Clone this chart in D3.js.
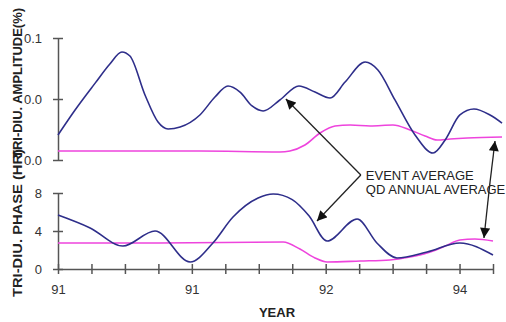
<!DOCTYPE html>
<html>
<head>
<meta charset="utf-8">
<script src="https://cdn.jsdelivr.net/npm/d3@7"></script>
<style>
  body { margin: 0; background: #fff; }
  text { font-family: "Liberation Sans", Arial, sans-serif; }
</style>
</head>
<body>
<div id="chart"></div>
<script>
// chart.js

// x positions are tick indexes along the year axis (0..13)
const xTicks = d3.range(14);
const xTickLabels = { 0: "91", 4: "91", 8: "92", 12: "94" };

const ampTicks = [0, 0.05, 0.1];
const ampTickLabels = ["0.0", "0.0", "0.1"];
const phaseTicks = [0, 4, 8];

// amplitude panel (%)
const ampEventX = [0, 0.51, 1.11, 1.55, 1.91, 2.15, 2.6, 2.99, 3.29, 3.65, 4.24, 4.69, 5.08, 5.44, 5.8, 6.13, 6.63, 7.2, 7.68, 8.13, 8.58, 9.18, 9.56, 10.07, 10.67, 11.21, 11.57, 12.01, 12.43, 12.91, 13.27];
const ampEventY = [0.0205, 0.041, 0.063, 0.0787, 0.0885, 0.0852, 0.0533, 0.0311, 0.0254, 0.027, 0.0369, 0.0516, 0.0607, 0.0557, 0.0443, 0.0402, 0.0492, 0.0607, 0.0557, 0.0508, 0.0639, 0.0803, 0.0738, 0.0492, 0.0205, 0.0057, 0.0164, 0.0369, 0.0418, 0.0369, 0.0303];
const ampQdX = [0, 4.24, 6.63, 6.93, 7.38, 7.83, 8.28, 8.73, 9.33, 10.01, 10.52, 10.97, 11.33, 11.72, 12.23, 13.27];
const ampQdY = [0.0074, 0.0074, 0.0066, 0.0074, 0.0123, 0.0221, 0.0279, 0.0287, 0.0279, 0.0287, 0.0246, 0.0197, 0.0164, 0.0172, 0.018, 0.0189];

// phase panel (hr)
const phaseEventX = [0, 0.96, 1.94, 2.9, 3.95, 4.63, 5.23, 5.98, 6.43, 7.0, 7.5, 8.04, 8.94, 9.53, 10.13, 11.03, 12.01, 13];
const phaseEventY = [5.68, 4.32, 2.42, 4.0, 0.74, 2.74, 5.47, 7.47, 7.89, 7.3, 5.6, 2.95, 5.26, 2.74, 1.16, 1.79, 2.74, 1.47];
const phaseQdX = [0, 3, 6.73, 7.23, 7.68, 8.04, 9.03, 9.92, 10.52, 11.03, 11.57, 12.01, 12.46, 13];
const phaseQdY = [2.74, 2.74, 2.84, 2.1, 1.16, 0.74, 0.84, 0.95, 1.26, 1.68, 2.42, 3.05, 3.16, 2.95];

const legendLines = ["EVENT AVERAGE", "QD ANNUAL AVERAGE"];

const svg = d3.select("#chart")
  .append("svg")
  .attr("width", 506)
  .attr("height", 322);

const x = d3.scaleLinear().domain([0, 13]).range([58, 493]);
const yAmp = d3.scaleLinear().domain([0, 0.1]).range([160, 38]);
const yPhase = d3.scaleLinear().domain([0, 8]).range([269, 193]);

function styleAxis(g) {
  g.select(".domain").attr("stroke", "#555").attr("stroke-width", 1.5);
  g.selectAll(".tick line").attr("stroke", "#555").attr("stroke-width", 1.5);
  g.selectAll(".tick text")
    .attr("fill", "#333")
    .style("font-size", "13px")
    .style("font-family", "'Liberation Sans', Arial, sans-serif");
}

// amplitude y axis
const gAmp = svg.append("g")
  .attr("transform", `translate(${x(0)},0)`)
  .call(d3.axisLeft(yAmp).tickValues(ampTicks).tickFormat((d, i) => ampTickLabels[i]).tickSizeOuter(0).tickPadding(10));
gAmp.selectAll(".tick line").attr("x1", 5).attr("x2", -5);
styleAxis(gAmp);

// phase y axis
const gPhase = svg.append("g")
  .attr("transform", `translate(${x(0)},0)`)
  .call(d3.axisLeft(yPhase).tickValues(phaseTicks).tickSizeOuter(0).tickPadding(10));
gPhase.selectAll(".tick line").attr("x1", 5).attr("x2", -5);
styleAxis(gPhase);

// year axis
const gX = svg.append("g")
  .attr("transform", `translate(0,${yPhase(0)})`)
  .call(d3.axisBottom(x).tickValues(xTicks).tickFormat(d => xTickLabels[d] || "").tickSizeOuter(0).tickPadding(10));
gX.selectAll(".tick line").attr("y1", -5).attr("y2", 5);
styleAxis(gX);

// curves
const lineAmp = d3.line().x(d => x(d[0])).y(d => yAmp(d[1])).curve(d3.curveMonotoneX);
const linePhase = d3.line().x(d => x(d[0])).y(d => yPhase(d[1])).curve(d3.curveMonotoneX);

const series = [
  { xs: ampQdX, ys: ampQdY, line: lineAmp, color: "#ee44dd" },
  { xs: ampEventX, ys: ampEventY, line: lineAmp, color: "#2e2e8a" },
  { xs: phaseQdX, ys: phaseQdY, line: linePhase, color: "#ee44dd" },
  { xs: phaseEventX, ys: phaseEventY, line: linePhase, color: "#2e2e8a" }
];

series.forEach(s => {
  svg.append("path")
    .datum(s.xs.map((v, i) => [v, s.ys[i]]))
    .attr("fill", "none")
    .attr("stroke", s.color)
    .attr("stroke-width", 1.6)
    .attr("d", s.line);
});

// axis titles (the two rotated titles run into each other, as in the original)
svg.append("text")
  .attr("transform", "translate(22,297) rotate(-90)")
  .attr("text-anchor", "start")
  .attr("textLength", 148)
  .attr("lengthAdjust", "spacingAndGlyphs")
  .style("font-size", "13px")
  .style("font-weight", "bold")
  .attr("fill", "#222")
  .text("TRI-DIU. PHASE (HR)");

svg.append("text")
  .attr("transform", "translate(22,158) rotate(-90)")
  .attr("text-anchor", "start")
  .attr("textLength", 150)
  .attr("lengthAdjust", "spacingAndGlyphs")
  .style("font-size", "13px")
  .style("font-weight", "bold")
  .attr("fill", "#222")
  .text("TRI-DIU. AMPLITUDE(%)");

svg.append("text")
  .attr("x", 277)
  .attr("y", 317)
  .attr("text-anchor", "middle")
  .style("font-size", "13px")
  .style("font-weight", "bold")
  .attr("fill", "#222")
  .text("YEAR");

// annotations
svg.append("defs").append("marker")
  .attr("id", "head")
  .attr("viewBox", "0 0 10 10")
  .attr("refX", 10)
  .attr("refY", 5)
  .attr("markerUnits", "userSpaceOnUse")
  .attr("markerWidth", 11)
  .attr("markerHeight", 10)
  .attr("orient", "auto")
  .append("path")
  .attr("d", "M0,0L10,5L0,10Z")
  .attr("fill", "#111");

const hub = [x(9.05), yPhase(9.9)];
const arrows = [
  [hub, [x(6.81), yAmp(0.05)]],
  [hub, [x(7.74), yPhase(5.05)]],
  [[x(12.9), yPhase(8.8)], [x(13.06), yAmp(0.0156)]],
  [[x(12.9), yPhase(8.8)], [x(12.73), yPhase(3.26)]]
];

arrows.forEach(a => {
  svg.append("line")
    .attr("x1", a[0][0]).attr("y1", a[0][1])
    .attr("x2", a[1][0]).attr("y2", a[1][1])
    .attr("stroke", "#222")
    .attr("stroke-width", 1.3)
    .attr("marker-end", "url(#head)");
});

svg.selectAll(".legend")
  .data(legendLines)
  .enter()
  .append("text")
  .attr("class", "legend")
  .attr("x", x(9.2))
  .attr("y", (d, i) => 180 + i * 14)
  .style("font-size", "13px")
  .attr("fill", "#222")
  .text(d => d);
</script>
</body>
</html>
